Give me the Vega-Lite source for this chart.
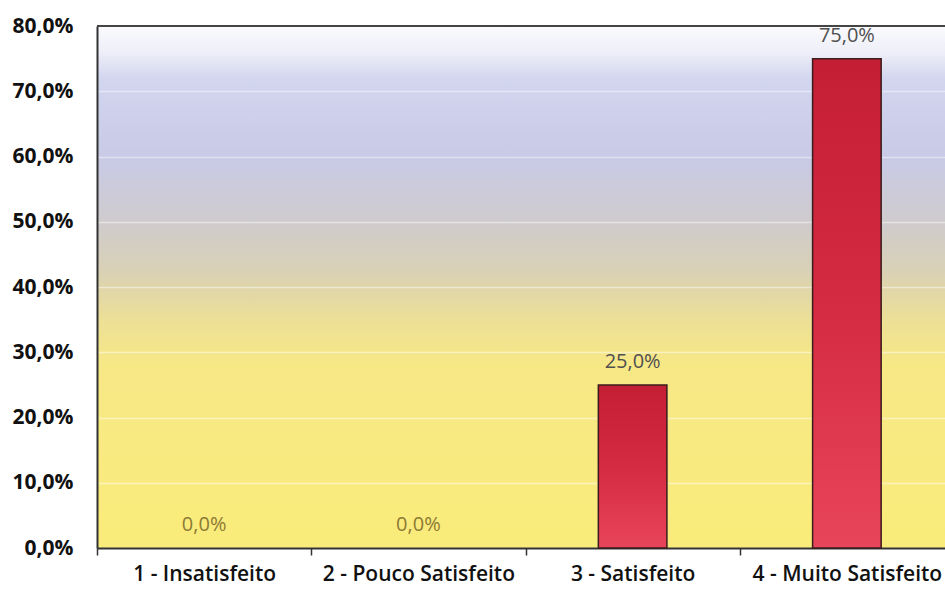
{
  "$schema": "https://vega.github.io/schema/vega-lite/v6.json",
  "width": 848,
  "height": 522,
  "autosize": {"type": "none"},
  "padding": {"left": 97, "top": 26, "right": 0, "bottom": 42},
  "background": "#ffffff",
  "config": {
    "locale": {"number": {"decimal": ",", "thousands": ".", "grouping": [3], "currency": ["", " €"]}},
    "font": "Open Sans",
    "view": {
      "stroke": null,
      "fill": {
        "gradient": "linear", "x1": 0, "y1": 0, "x2": 0, "y2": 1,
        "stops": [
          {"offset": 0, "color": "#fbfbfd"},
          {"offset": 0.05, "color": "#eeeff8"},
          {"offset": 0.1, "color": "#d3d6ef"},
          {"offset": 0.25, "color": "#c8cae6"},
          {"offset": 0.38, "color": "#cfcbcc"},
          {"offset": 0.47, "color": "#d9d1b5"},
          {"offset": 0.56, "color": "#ecdf97"},
          {"offset": 0.65, "color": "#f7e886"},
          {"offset": 1, "color": "#faec7a"}
        ]
      }
    }
  },
  "data": {
    "values": [
      {"categoria": "1 - Insatisfeito", "pct": 0},
      {"categoria": "2 - Pouco Satisfeito", "pct": 0},
      {"categoria": "3 - Satisfeito", "pct": 0.25},
      {"categoria": "4 - Muito Satisfeito", "pct": 0.75}
    ]
  },
  "layer": [
    {
      "mark": {
        "type": "bar",
        "width": {"band": 0.32},
        "color": {
          "gradient": "linear", "x1": 0, "y1": 0, "x2": 0, "y2": 1,
          "stops": [
            {"offset": 0, "color": "#c41e35"},
            {"offset": 0.5, "color": "#d42a42"},
            {"offset": 1, "color": "#e8455a"}
          ]
        },
        "strokeWidth": 1.5
      },
      "encoding": {
        "x": {
          "field": "categoria", "type": "nominal", "sort": null,
          "scale": {"range": [0, 857], "paddingInner": 0, "paddingOuter": 0},
          "axis": {
            "title": null, "labelAngle": 0, "labelFont": "Open Sans", "labelFontSize": 21,
            "labelFontWeight": 600, "labelColor": "#111111", "tickBand": "extent", "labelLimit": 0,
            "tickSize": 7, "tickColor": "#333333", "tickWidth": 1.5,
            "domainColor": "#333333", "domainWidth": 2, "labelPadding": 8, "grid": false
          }
        },
        "y": {
          "field": "pct", "type": "quantitative",
          "scale": {"domain": [0, 0.8], "nice": false},
          "axis": {
            "title": null, "format": ".1%", "values": [0, 0.1, 0.2, 0.3, 0.4, 0.5, 0.6, 0.7, 0.8],
            "labelFont": "Open Sans", "labelFontWeight": "bold", "labelFontSize": 21,
            "labelColor": "#111111", "labelPadding": 24, "ticks": false,
            "domainColor": "#333333", "domainWidth": 2,
            "gridColor": "#ffffff", "gridOpacity": 0.45, "gridWidth": 1.5
          }
        },
        "stroke": {"condition": {"test": "datum.pct == 0", "value": null}, "value": "#3a1c1c"}
      }
    },
    {
      "mark": {"type": "text", "baseline": "alphabetic", "fontSize": 20, "font": "Open Sans"},
      "encoding": {
        "x": {"field": "categoria", "type": "nominal", "sort": null},
        "y": {"field": "pct", "type": "quantitative"},
        "yOffset": {"condition": {"test": "datum.pct > 0.7", "value": -6}, "value": -17},
        "text": {"field": "pct", "type": "quantitative", "format": ".1%"},
        "color": {"condition": {"test": "datum.pct == 0", "value": "#8c7a35"}, "value": "#505050"}
      }
    },
    {
      "mark": {"type": "rule", "color": "#444444", "strokeWidth": 2},
      "encoding": {"y": {"datum": 0.8}}
    }
  ]
}
